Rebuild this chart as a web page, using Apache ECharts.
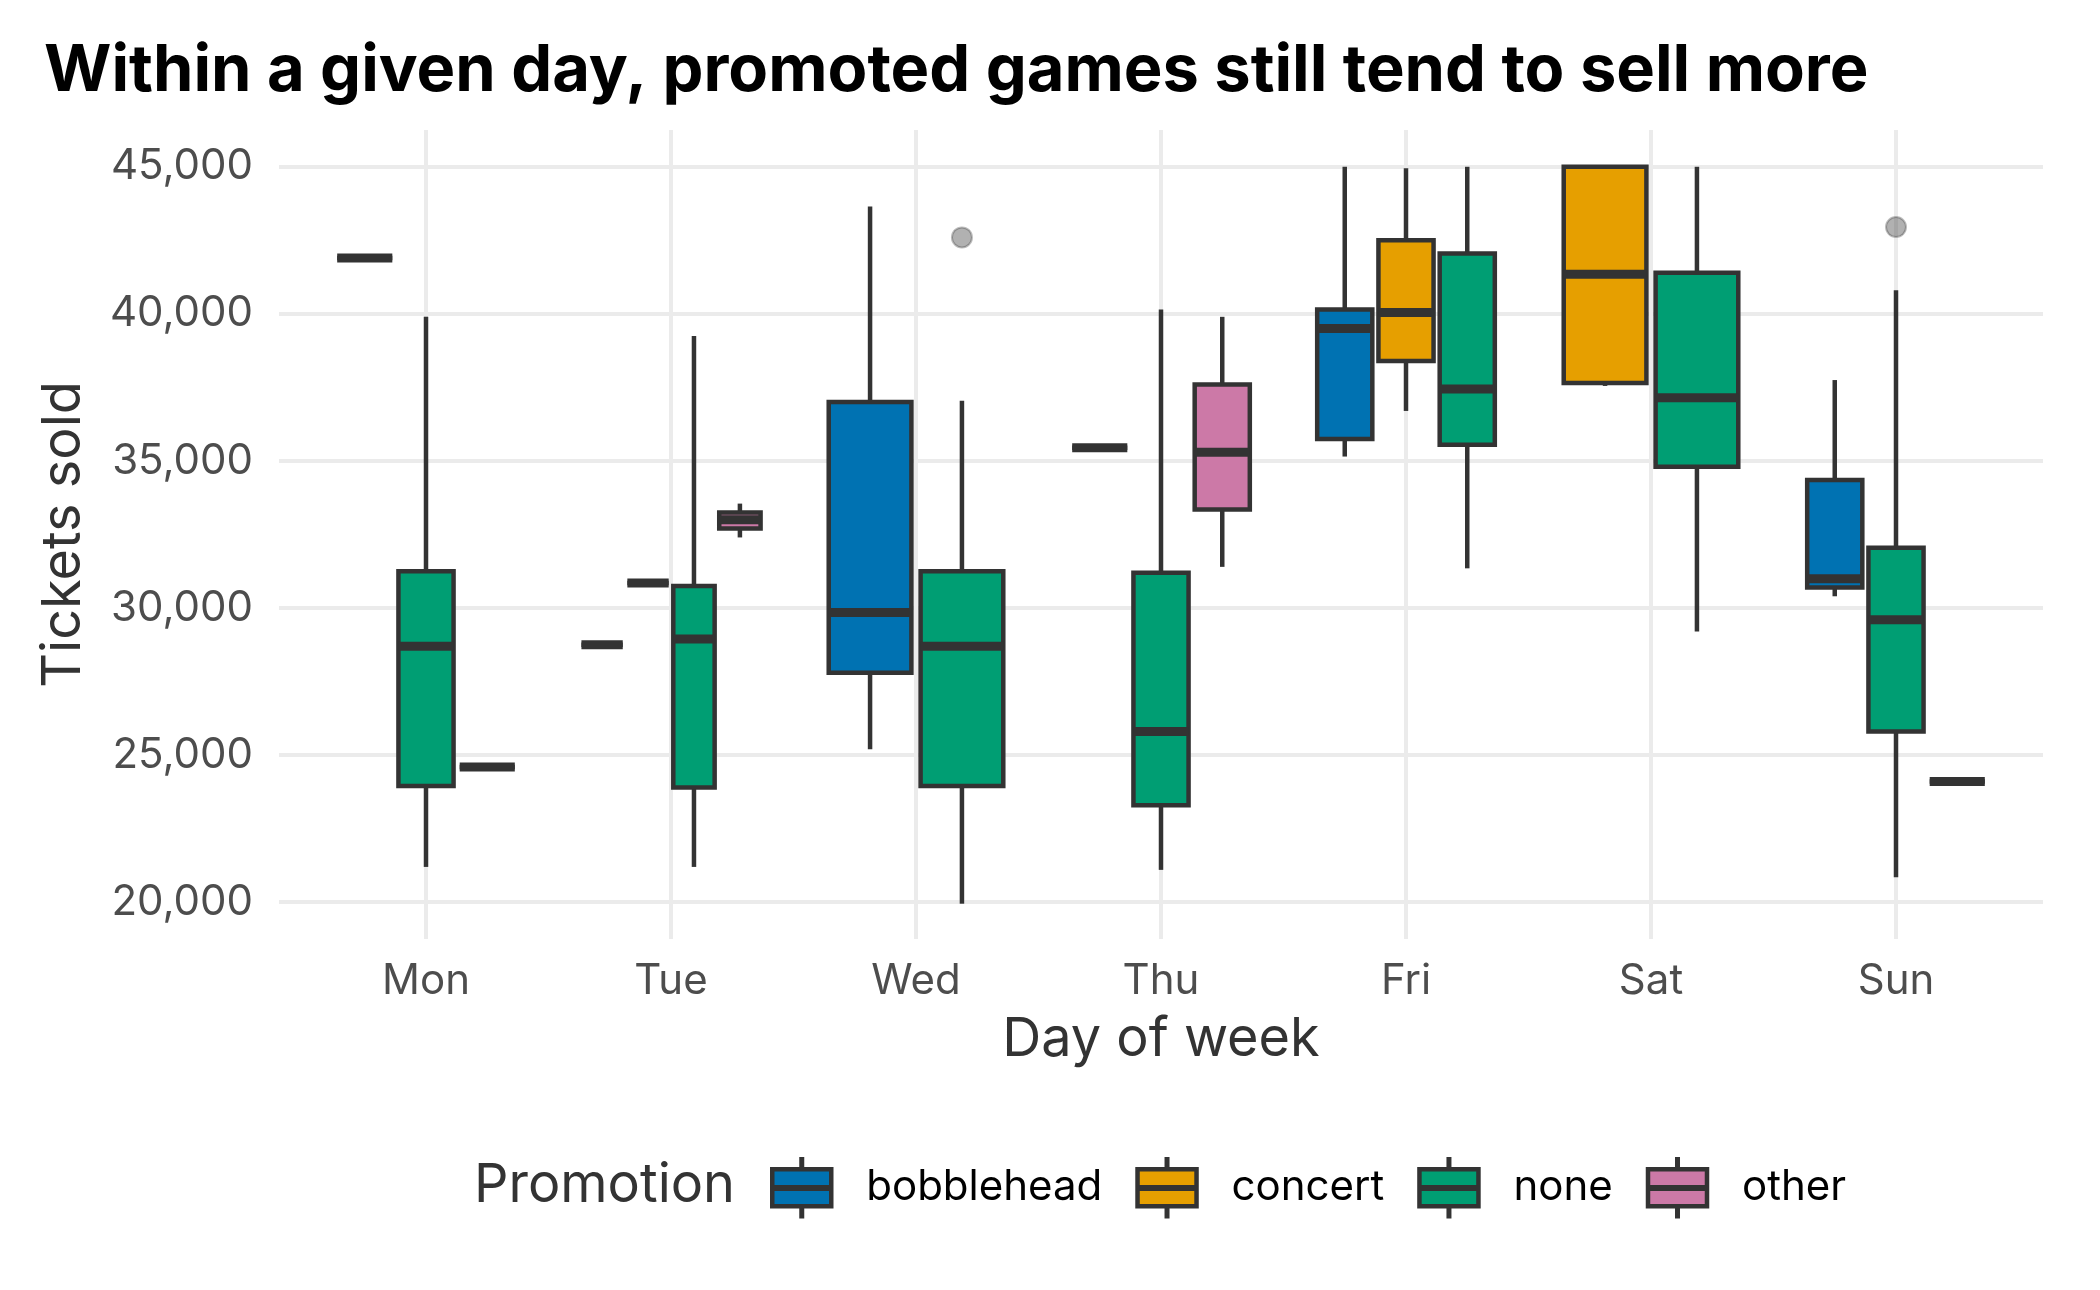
<!DOCTYPE html>
<html>
<head>
<meta charset="utf-8">
<title>Tickets sold by day and promotion</title>
<script src="https://cdn.jsdelivr.net/npm/echarts@6/dist/echarts.min.js"></script>
<style>
  html, body { margin: 0; padding: 0; background: #fff; }
  #chart-container { width: 2100px; height: 1290px; }
</style>
</head>
<body>
<div id="chart-container"></div>
<script>
var days = ["Mon", "Tue", "Wed", "Thu", "Fri", "Sat", "Sun"];
var promotions = ["bobblehead", "concert", "none", "other"];
var colors = ["#0072B2", "#E69F00", "#009E73", "#CC79A7"];

// [day, lower whisker, Q1, median, Q3, upper whisker]
var bobblehead = [
  ["Mon", 41900, 41900, 41900, 41900, 41900],
  ["Tue", 28750, 28750, 28750, 28750, 28750],
  ["Wed", 25200, 27800, 29850, 37000, 43650],
  ["Thu", 35450, 35450, 35450, 35450, 35450],
  ["Fri", 35150, 35750, 39500, 40150, 45000],
  ["Sun", 30400, 30700, 31000, 34350, 37750]
];
var concert = [
  ["Tue", 30850, 30850, 30850, 30850, 30850],
  ["Fri", 36700, 38400, 40050, 42500, 44950],
  ["Sat", 37550, 37650, 41350, 45000, 45000]
];
var none = [
  ["Mon", 21200, 23950, 28700, 31250, 39900],
  ["Tue", 21200, 23900, 28950, 30750, 39250],
  ["Wed", 19950, 23950, 28700, 31250, 37050],
  ["Thu", 21100, 23300, 25800, 31200, 40150],
  ["Fri", 31350, 35550, 37450, 42050, 45000],
  ["Sat", 29200, 34800, 37150, 41400, 45000],
  ["Sun", 20850, 25800, 29600, 32050, 40800]
];
var other = [
  ["Mon", 24600, 24600, 24600, 24600, 24600],
  ["Tue", 32400, 32700, 33000, 33250, 33550],
  ["Thu", 31400, 33350, 35300, 37600, 39900],
  ["Sun", 24100, 24100, 24100, 24100, 24100]
];
// [day, promotion, tickets]
var outliers = [
  ["Wed", "none", 42600],
  ["Sun", "none", 42950]
];

var stats = [bobblehead, concert, none, other];

// ggplot-like dodge: boxes share 0.75 of a day among the promotions present
function dodge(day, p) {
  var present = [];
  promotions.forEach(function (name, i) {
    if (stats[i].some(function (r) { return r[0] === day; })) present.push(name);
  });
  var slot = 0.75 / present.length;
  return {
    x: days.indexOf(day) + 1 - 0.375 + slot * (present.indexOf(p) + 0.5),
    w: slot * 0.9
  };
}

var ink = "#333333";

function renderBox(params, api) {
  var x = api.value(0);
  var lo = api.coord([x, api.value(1)]);
  var q1 = api.coord([x, api.value(2)]);
  var md = api.coord([x, api.value(3)]);
  var q3 = api.coord([x, api.value(4)]);
  var hi = api.coord([x, api.value(5)]);
  var half = api.size([api.value(6), 0])[0] / 2;
  var cx = md[0];
  var thin = { stroke: ink, lineWidth: 4.5 };
  return {
    type: "group",
    children: [
      { type: "line", shape: { x1: cx, y1: hi[1], x2: cx, y2: q3[1] }, style: thin },
      { type: "line", shape: { x1: cx, y1: q1[1], x2: cx, y2: lo[1] }, style: thin },
      {
        type: "rect",
        shape: { x: cx - half, y: q3[1], width: half * 2, height: q1[1] - q3[1] },
        style: { fill: api.visual("color"), stroke: ink, lineWidth: 4.5 }
      },
      { type: "line", shape: { x1: cx - half, y1: md[1], x2: cx + half, y2: md[1] }, style: { stroke: ink, lineWidth: 9 } }
    ]
  };
}

var series = promotions.map(function (p, i) {
  return {
    name: p,
    type: "custom",
    renderItem: renderBox,
    itemStyle: { color: colors[i] },
    encode: { x: 0, y: [1, 2, 3, 4, 5] },
    data: stats[i].map(function (r) {
      var d = dodge(r[0], p);
      return [d.x, r[1], r[2], r[3], r[4], r[5], d.w];
    })
  };
});

series.push({
  name: "outlier",
  type: "scatter",
  symbol: "circle",
  symbolSize: 20,
  z: 5,
  itemStyle: { color: "rgba(51,51,51,0.48)", borderColor: "rgba(51,51,51,0.4)", borderWidth: 2 },
  data: outliers.map(function (o) {
    return [dodge(o[0], o[1]).x, o[2]];
  })
});

var keyIcon = "path://M0,10L59,10L59,28L0,28Z" +
  "M0,29.5L59,29.5L59,47L0,47Z" +
  "M29.25,0L29.75,0L29.75,10L29.25,10Z" +
  "M29.25,47L29.75,47L29.75,57L29.25,57Z";

var gridLine = { show: true, showMinLine: false, showMaxLine: false, lineStyle: { color: "#ebebeb", width: 4 } };
var font = "Inter";

var dom = document.getElementById("chart-container");
var myChart = echarts.init(dom, null, { renderer: "canvas" });

var option = {
  animation: false,
  backgroundColor: "#ffffff",
  textStyle: { fontFamily: font },
  title: [
    {
      text: "Within a given day, promoted games still tend to sell more",
      left: 44,
      top: 39,
      padding: 0,
      textStyle: { fontFamily: font, fontSize: 65, fontWeight: "bold", color: "#000000" }
    },
    {
      text: "Promotion",
      left: 474,
      top: 1159,
      padding: 0,
      textStyle: { fontFamily: font, fontSize: 54, fontWeight: "normal", color: "#333333" }
    }
  ],
  legend: {
    data: promotions,
    left: 770,
    top: 1157,
    padding: 0,
    itemWidth: 59,
    itemHeight: 57,
    itemGap: 33,
    icon: keyIcon,
    selectedMode: false,
    itemStyle: { borderColor: ink, borderWidth: 4.5 },
    textStyle: { fontFamily: font, fontSize: 42, color: "#000000", padding: [0, 0, 0, 30] }
  },
  grid: { left: 279, right: 57, top: 130, bottom: 351 },
  xAxis: {
    type: "value",
    min: 0.4,
    max: 7.6,
    minInterval: 1,
    maxInterval: 1,
    axisLine: { show: false },
    axisTick: { show: false },
    splitLine: gridLine,
    axisLabel: {
      showMinLabel: false,
      showMaxLabel: false,
      margin: 21,
      fontFamily: font,
      fontSize: 42,
      color: "#4d4d4d",
      formatter: function (v) {
        var k = Math.round(v);
        return Math.abs(v - k) < 1e-6 && k >= 1 && k <= days.length ? days[k - 1] : "";
      }
    },
    name: "Day of week",
    nameLocation: "middle",
    nameGap: 74,
    nameTextStyle: { fontFamily: font, fontSize: 54, color: "#333333" }
  },
  yAxis: {
    type: "value",
    min: 18750,
    max: 46250,
    minInterval: 5000,
    maxInterval: 5000,
    axisLine: { show: false },
    axisTick: { show: false },
    splitLine: gridLine,
    axisLabel: {
      showMinLabel: false,
      showMaxLabel: false,
      margin: 26,
      fontFamily: font,
      fontSize: 42,
      color: "#4d4d4d",
      formatter: function (v) {
        return v % 5000 === 0 ? v.toLocaleString("en-US") : "";
      }
    },
    name: "Tickets sold",
    nameLocation: "middle",
    nameRotate: 90,
    nameGap: 188,
    nameTextStyle: { fontFamily: font, fontSize: 54, color: "#333333" }
  },
  series: series
};

myChart.setOption(option);
window.addEventListener("resize", myChart.resize);
</script>
</body>
</html>
